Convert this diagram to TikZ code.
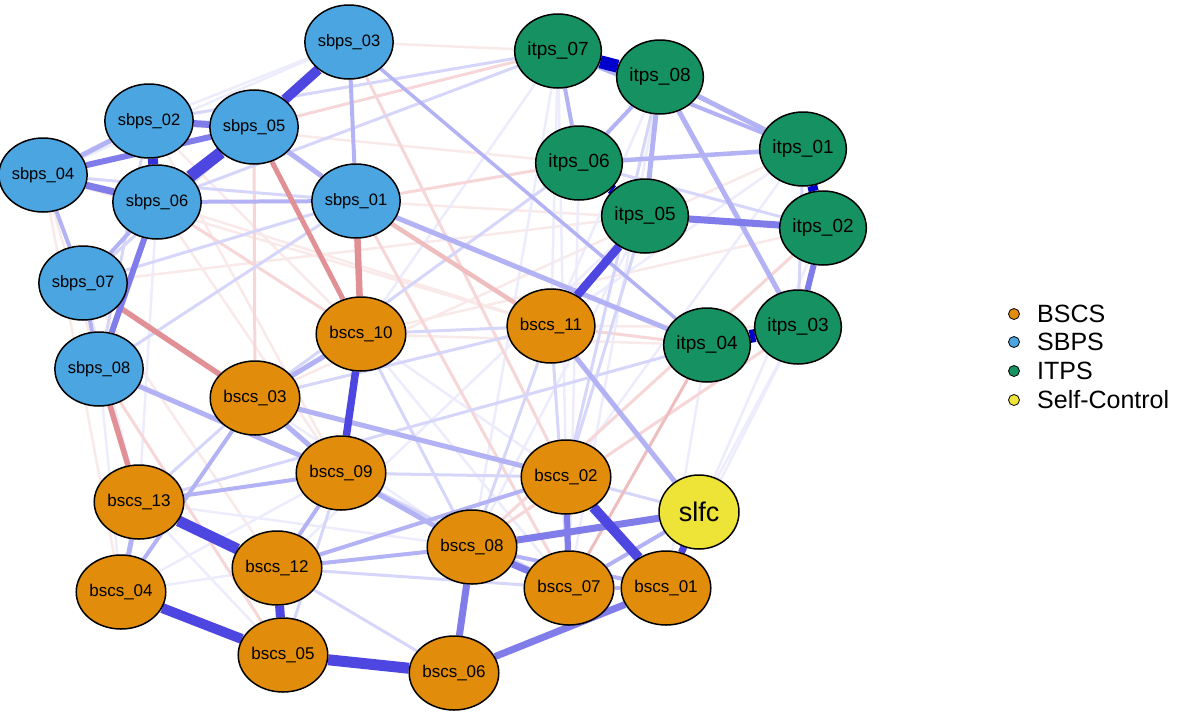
\documentclass[tikz,border=0pt]{standalone}
\usepackage{fontspec}
\setmainfont{Liberation Sans}
\usetikzlibrary{shapes.geometric,backgrounds}
\definecolor{cB}{RGB}{225,140,10}
\definecolor{cS}{RGB}{75,165,225}
\definecolor{cI}{RGB}{22,145,98}
\definecolor{cY}{RGB}{238,228,55}
\definecolor{eD}{RGB}{0,0,205}
\definecolor{eB}{RGB}{78,70,225}
\definecolor{eM}{RGB}{128,125,235}
\definecolor{eL}{RGB}{178,178,245}
\definecolor{eF}{RGB}{214,214,250}
\definecolor{eX}{RGB}{236,236,253}
\definecolor{rM}{RGB}{225,145,150}
\definecolor{rL}{RGB}{238,190,190}
\definecolor{rF}{RGB}{246,214,214}
\definecolor{rX}{RGB}{250,233,233}
\tikzset{
  nd/.style={ellipse, draw=black, line width=1.5pt, minimum width=80pt, minimum height=74pt, inner sep=0pt},
  bs/.style={nd, fill=cB, font=\fontsize{17}{17}\selectfont},
  sb/.style={nd, fill=cS, font=\fontsize{16.5}{16}\selectfont},
  it/.style={nd, fill=cI, font=\fontsize{19}{19}\selectfont},
  sc/.style={nd, fill=cY, font=\fontsize{27}{27}\selectfont},
  lgdot/.style={circle, draw=black, line width=0.8pt, minimum size=11pt, inner sep=0pt},
  lgtxt/.style={anchor=west, inner sep=0pt, font=\fontsize{25}{25}\selectfont},
  ed/.style={line cap=butt}
}
\begin{document}
\begin{tikzpicture}[x=1pt,y=-1pt]
\useasboundingbox (0,0) rectangle (1181,716);
% SBPS
\node[sb] (s3) at (349,42) {sbps\_03};
\node[sb] (s2) at (149,121) {sbps\_02};
\node[sb] (s5) at (254,127) {sbps\_05};
\node[sb] (s4) at (43,175) {sbps\_04};
\node[sb] (s6) at (157,202) {sbps\_06};
\node[sb] (s1) at (356,201) {sbps\_01};
\node[sb] (s7) at (83,283) {sbps\_07};
\node[sb] (s8) at (99,369) {sbps\_08};
% ITPS
\node[it] (i7) at (558,51) {itps\_07};
\node[it] (i8) at (660,77) {itps\_08};
\node[it] (i6) at (579,163) {itps\_06};
\node[it] (i1) at (803,149) {itps\_01};
\node[it] (i5) at (645,216) {itps\_05};
\node[it] (i2) at (823,228) {itps\_02};
\node[it] (i4) at (707,345) {itps\_04};
\node[it] (i3) at (798,327) {itps\_03};
% BSCS
\node[bs] (b10) at (361,334) {bscs\_10};
\node[bs] (b11) at (551,326) {bscs\_11};
\node[bs] (b3) at (255,398) {bscs\_03};
\node[bs] (b9) at (341,473) {bscs\_09};
\node[bs] (b2) at (566,477) {bscs\_02};
\node[bs] (b13) at (139,502) {bscs\_13};
\node[bs] (b8) at (472,547) {bscs\_08};
\node[bs] (b12) at (277,568) {bscs\_12};
\node[bs] (b4) at (121,592) {bscs\_04};
\node[bs] (b7) at (569,588) {bscs\_07};
\node[bs] (b1) at (666,588) {bscs\_01};
\node[bs] (b5) at (283,655) {bscs\_05};
\node[bs] (b6) at (454,673) {bscs\_06};
% Self-control
\node[sc] (sc) at (699,512) {slfc};
% legend
\node[lgdot, fill=cB] (l1) at (1014,314) {};
\node[lgdot, fill=cS] (l2) at (1014,342) {};
\node[lgdot, fill=cI] (l3) at (1014,371) {};
\node[lgdot, fill=cY] (l4) at (1014,400) {};
\node[lgtxt] (t1) at (1037,314) {BSCS};
\node[lgtxt] (t2) at (1037,342) {SBPS};
\node[lgtxt] (t3) at (1037,371) {ITPS};
\node[lgtxt] (t4) at (1037,400) {Self-Control};
\begin{pgfonlayer}{background}
% very faint
\foreach \a/\b in {s3/i7,s4/b4,s4/b13,s2/b10,s6/b11,s2/i6,s1/i2,i2/b10,i3/b11,i1/b3,s7/b12,s6/b9,i4/b10,s4/b11,s7/i5,s2/b9}
  \draw[ed, rX, line width=2.5pt] (\a) -- (\b);
\foreach \a/\b in {s2/s3,s4/s3,i7/b11,i7/b2,i7/b8,i8/b7,i6/b7,i5/b8,i1/b11,i2/b1,i3/b1,b10/b7,b3/b8,b13/b8,b4/b9,b10/b2,i5/b12,s6/b13,i8/b11,i4/b1,i3/sc,b4/b12,s8/b4,s7/b13,i1/b2,i7/b10,b13/b5}
  \draw[ed, eX, line width=2.5pt] (\a) -- (\b);
\foreach \a/\b in {s5/i7,s1/i6,s5/b3,s1/b7,s8/b5,b11/i4,i2/b8,s3/b2,i3/b8,s6/b10}
  \draw[ed, rF, line width=3pt] (\a) -- (\b);
\foreach \a/\b in {i6/i2,i1/i3,s4/s1,b3/b11,b10/b11,b9/b5,b12/b7,b13/b3,b9/b7,b2/sc,b10/b8,b11/b8,b11/b7,s2/i7,s6/i7,s8/s1,s7/s5,s7/s1,i6/b3,i4/b13,s2/s8,i8/b2,i5/b2,b12/b6,b9/b2}
  \draw[ed, eF, line width=3pt] (\a) -- (\b);
\draw[ed, rL, line width=4.5pt] (s1) -- (b11);
\draw[ed, rL, line width=3pt] (i4) -- (b7);
% light
\foreach \a/\b/\w in {i8/i1/5,i7/i1/4,i8/i3/5,i8/i5/5,i8/i6/4,i7/i6/4,i6/i1/4.5,s1/i4/5,b11/sc/5,s8/b9/5,b3/b9/5,b3/b2/5,b3/b10/5,b9/b8/5,b9/b12/4,b12/b8/4,b12/b2/4,b13/b9/4,b13/b4/5,b4/b3/4,b8/b1/4,b7/sc/4,b7/b1/4,s5/s1/5,s3/s1/4,s4/s2/5,s7/s8/4,s4/s7/4,s6/s1/4,s3/i4/3.5,s6/s7/4}
  \draw[ed, eL, line width=\w pt] (\a) -- (\b);
% red medium
\draw[ed, rM, line width=6.5pt] (s1) -- (b10);
\draw[ed, rM, line width=5pt] (s5) -- (b10);
\draw[ed, rM, line width=5.5pt] (s7) -- (b3);
\draw[ed, rM, line width=5.5pt] (s8) -- (b13);
% medium
\foreach \a/\b/\w in {s2/s5/7,s4/s6/7,s4/s5/6,i5/i2/7,b6/b1/7,b8/sc/7,b8/b6/7,b2/b7/6,b8/b7/7,s6/s8/6,i2/i3/6}
  \draw[ed, eM, line width=\w pt] (\a) -- (\b);
% strong
\foreach \a/\b/\w in {s5/s6/12,s3/s5/10,b13/b12/11,b12/b5/9,b4/b5/10,b5/b6/11,b2/b1/10,b11/i5/8.5,b10/b9/7.5,sc/b1/7}
  \draw[ed, eB, line width=\w pt] (\a) -- (\b);
\draw[ed, eB!70!eD, line width=10pt] (s2) -- (s6);
\foreach \a/\b/\w in {i7/i8/13,i1/i2/10,i6/i5/10,i4/i3/13}
  \draw[ed, eD, line width=\w pt] (\a) -- (\b);
\end{pgfonlayer}
\end{tikzpicture}
\end{document}
